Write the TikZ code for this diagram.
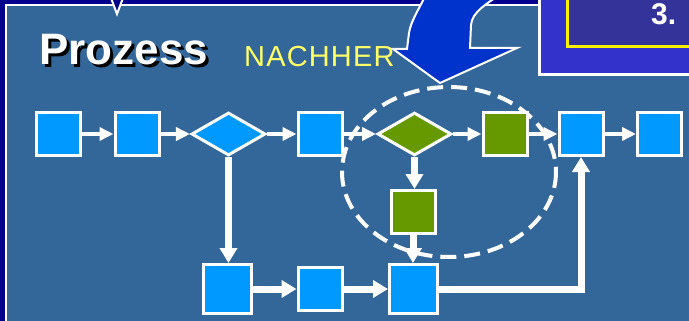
\documentclass[tikz,border=0pt]{standalone}
\usepackage{fontspec}
\setmainfont{Liberation Sans}
\usepackage{xcolor}
\usepackage{tikz}
\usetikzlibrary{positioning,arrows.meta,shapes.geometric,calc}

\definecolor{panel}{RGB}{51,102,153}
\definecolor{navy}{RGB}{0,0,140}
\definecolor{cyanbox}{RGB}{0,153,255}
\definecolor{greenbox}{RGB}{102,153,0}
\definecolor{bigarrow}{RGB}{0,51,204}
\definecolor{stepblue}{RGB}{51,51,204}
\definecolor{stepinner}{RGB}{51,51,153}
\definecolor{nachher}{RGB}{255,255,102}

\tikzset{
  proc/.style={draw=white, line width=3pt, fill=cyanbox, minimum width=44pt, minimum height=43pt, inner sep=0pt},
  gproc/.style={proc, fill=greenbox},
  test/.style={diamond, draw=white, line width=3pt, fill=cyanbox, minimum width=74pt, minimum height=43pt, inner sep=0pt},
  gtest/.style={test, fill=greenbox},
  flow/.style={white, line width=4.5pt, -{Triangle[length=14pt,width=13pt]}},
  bigflow/.style={white, line width=7pt, -{Triangle[length=15pt,width=17pt]}},
}

\begin{document}
\begin{tikzpicture}[x=1pt, y=-1pt]
\clip (0,0) rectangle (689,321);

% panel and frame
\fill[navy] (0,0) rectangle (689,321);
\fill[panel] (5,5) rectangle (689,321);
\draw[white, line width=2pt] (5.5,330) -- (5.5,5.5) -- (700,5.5);
\draw[white, line width=2pt, fill=navy, line join=miter] (111,-2) -- (117,14) -- (123,-2);

% step box
\draw[white, line width=3pt, fill=stepblue] (539.5,-10) rectangle (700,75);
\draw[yellow, line width=3pt, fill=stepinner] (567.5,-10) rectangle (700,46.5);
\node[anchor=base west, inner sep=0pt, white, font=\bfseries\fontsize{30}{30}\selectfont] (stepno) at (651,25) {3.};

% big arrow
\draw[white, line width=2pt, fill=bigarrow, line join=miter]
  (407,49) -- (393,49) -- (440,83) -- (517,48) -- (470,48) -- (471,25)
  .. controls (472,12) and (486,4) .. (507,-10) -- (428,-10)
  .. controls (420,8) and (411,20) .. (409,33) -- cycle;

% title
\node[anchor=base west, inner sep=0pt, black, font=\bfseries\fontsize{44}{44}\selectfont] (titleshadow) at (42,68) {Prozess};
\node[anchor=base west, inner sep=0pt, white, font=\bfseries\fontsize{44}{44}\selectfont] (title) at (39,65) {Prozess};
\node[anchor=base west, inner sep=0pt, nachher, font=\fontsize{29}{29}\selectfont\addfontfeature{LetterSpace=4}] (after) at (244,67) {NACHHER};

% changed area
\draw[white, line width=4pt, dash pattern=on 16pt off 8pt] (449,172) ellipse [x radius=107, y radius=85];

% process steps
\node[proc] (p1) at (58.5,134) {};
\node[proc] (p2) at (137,134) {};
\node[test] (d1) at (228.5,134) {};
\node[proc] (p3) at (320,134) {};
\node[gtest] (d2) at (414.5,134) {};
\node[gproc] (g1) at (505,134) {};
\node[proc] (p4) at (581,134) {};
\node[proc] (p5) at (659.5,134) {};
\node[gproc] (g2) at (413,212) {};
\node[proc, minimum width=48pt, minimum height=49pt] (q1) at (227.5,289) {};
\node[proc] (q2) at (320,289) {};
\node[proc, minimum width=48pt, minimum height=49pt] (q3) at (413.5,289) {};

% connectors
\draw[flow] (p1) -- (p2);
\draw[flow] (p2) -- (d1);
\draw[flow] (d1) -- (p3);
\draw[flow] (p3) -- (d2);
\draw[flow] (d2) -- (g1);
\draw[flow] (g1) -- (p4);
\draw[flow] (p4) -- (p5);
\draw[bigflow] (d1.south) -- (d1.south |- q1.north);
\draw[bigflow] (q1) -- (q2);
\draw[bigflow] (q2) -- (q3);
\draw[bigflow] (d2.south) -- (d2.south |- g2.north);
\draw[bigflow] (g2.south) -- (g2.south |- q3.north);
\draw[bigflow] (q3.east) -| (p4.south);

\end{tikzpicture}
\end{document}
